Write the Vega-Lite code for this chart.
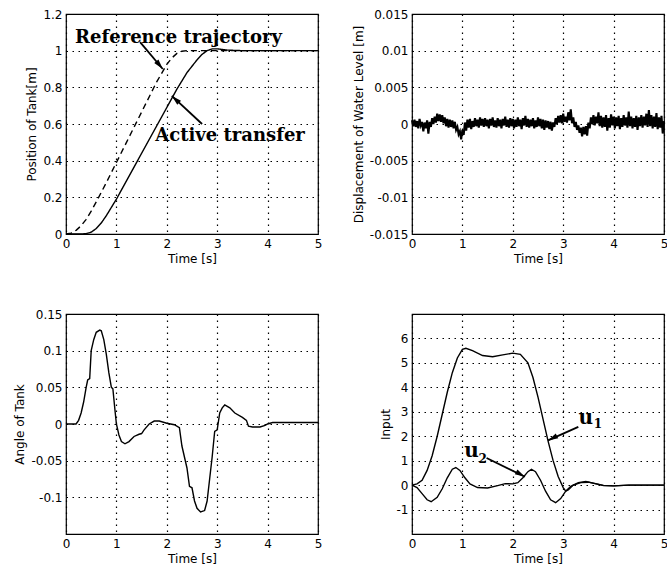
{
"$schema": "https://vega.github.io/schema/vega-lite/v6.json",
"background": "white",
"padding": {"left": 13, "top": 7, "right": 0, "bottom": 5},
"columns": 2,
"spacing": {"row": 80, "column": 94},
"bounds": "flush",
"config": {
  "font": "DejaVu Sans",
  "view": {"stroke": "black", "strokeWidth": 1.2},
  "axis": {"grid": true, "gridColor": "black", "gridDash": [1.5, 4.5], "gridOpacity": 1, "gridWidth": 1.2, "domain": false, "ticks": false, "tickCount": 20, "labelExpr": "'' + datum.value", "labelColor": "black", "labelFontSize": 12, "labelFont": "DejaVu Sans", "titleFont": "DejaVu Sans", "titleFontSize": 12, "titleFontWeight": "normal", "titleColor": "black", "labelPadding": 4, "titlePadding": 4, "labelFlush": false, "labelOverlap": false, "labelBound": false}
},
"datasets": {
  "pos": [
    {"t": 0, "v": 0, "s": "Reference trajectory"},
    {"t": 0.1, "v": 0.005, "s": "Reference trajectory"},
    {"t": 0.2, "v": 0.02, "s": "Reference trajectory"},
    {"t": 0.3, "v": 0.045, "s": "Reference trajectory"},
    {"t": 0.4, "v": 0.08, "s": "Reference trajectory"},
    {"t": 0.5, "v": 0.125, "s": "Reference trajectory"},
    {"t": 0.6, "v": 0.175, "s": "Reference trajectory"},
    {"t": 0.8, "v": 0.28, "s": "Reference trajectory"},
    {"t": 1.0, "v": 0.39, "s": "Reference trajectory"},
    {"t": 1.2, "v": 0.5, "s": "Reference trajectory"},
    {"t": 1.4, "v": 0.61, "s": "Reference trajectory"},
    {"t": 1.6, "v": 0.72, "s": "Reference trajectory"},
    {"t": 1.8, "v": 0.83, "s": "Reference trajectory"},
    {"t": 2.0, "v": 0.925, "s": "Reference trajectory"},
    {"t": 2.1, "v": 0.96, "s": "Reference trajectory"},
    {"t": 2.2, "v": 0.985, "s": "Reference trajectory"},
    {"t": 2.3, "v": 0.997, "s": "Reference trajectory"},
    {"t": 2.4, "v": 1.0, "s": "Reference trajectory"},
    {"t": 5, "v": 1.0, "s": "Reference trajectory"},
    {"t": 0, "v": 0, "s": "Active transfer"},
    {"t": 0.3, "v": 0, "s": "Active transfer"},
    {"t": 0.4, "v": 0.002, "s": "Active transfer"},
    {"t": 0.5, "v": 0.01, "s": "Active transfer"},
    {"t": 0.6, "v": 0.03, "s": "Active transfer"},
    {"t": 0.7, "v": 0.06, "s": "Active transfer"},
    {"t": 0.8, "v": 0.1, "s": "Active transfer"},
    {"t": 0.9, "v": 0.145, "s": "Active transfer"},
    {"t": 1.0, "v": 0.19, "s": "Active transfer"},
    {"t": 1.2, "v": 0.29, "s": "Active transfer"},
    {"t": 1.4, "v": 0.39, "s": "Active transfer"},
    {"t": 1.6, "v": 0.49, "s": "Active transfer"},
    {"t": 1.8, "v": 0.59, "s": "Active transfer"},
    {"t": 2.0, "v": 0.69, "s": "Active transfer"},
    {"t": 2.2, "v": 0.79, "s": "Active transfer"},
    {"t": 2.4, "v": 0.88, "s": "Active transfer"},
    {"t": 2.6, "v": 0.95, "s": "Active transfer"},
    {"t": 2.7, "v": 0.98, "s": "Active transfer"},
    {"t": 2.8, "v": 1.0, "s": "Active transfer"},
    {"t": 2.9, "v": 1.01, "s": "Active transfer"},
    {"t": 3.0, "v": 1.01, "s": "Active transfer"},
    {"t": 3.2, "v": 1.003, "s": "Active transfer"},
    {"t": 3.5, "v": 1.0, "s": "Active transfer"},
    {"t": 5, "v": 1.0, "s": "Active transfer"}
  ],
  "disp": [
    {"t":0.000,"v":0.0005},{"t":0.025,"v":-0.0003},{"t":0.050,"v":0.0006},{"t":0.075,"v":-0.0004},{"t":0.100,"v":0.0004},
    {"t":0.125,"v":-0.0006},{"t":0.150,"v":0.0007},{"t":0.175,"v":-0.0002},{"t":0.200,"v":0.0003},{"t":0.225,"v":-0.0010},
    {"t":0.250,"v":0.0002},{"t":0.275,"v":-0.0006},{"t":0.300,"v":0.0005},{"t":0.325,"v":-0.0013},{"t":0.350,"v":0.0003},
    {"t":0.375,"v":-0.0004},{"t":0.400,"v":0.0008},{"t":0.425,"v":0.0000},{"t":0.450,"v":0.0010},{"t":0.475,"v":0.0002},
    {"t":0.500,"v":0.0014},{"t":0.525,"v":0.0004},{"t":0.550,"v":0.0013},{"t":0.575,"v":0.0003},{"t":0.600,"v":0.0012},
    {"t":0.625,"v":0.0001},{"t":0.650,"v":0.0009},{"t":0.675,"v":-0.0003},{"t":0.700,"v":0.0007},{"t":0.725,"v":-0.0005},
    {"t":0.750,"v":0.0006},{"t":0.775,"v":-0.0004},{"t":0.800,"v":0.0005},{"t":0.825,"v":-0.0006},{"t":0.850,"v":0.0003},
    {"t":0.875,"v":-0.0008},{"t":0.900,"v":-0.0004},{"t":0.925,"v":-0.0014},{"t":0.950,"v":-0.0010},{"t":0.975,"v":-0.0021},
    {"t":1.000,"v":-0.0008},{"t":1.025,"v":-0.0015},{"t":1.050,"v":0.0002},{"t":1.075,"v":-0.0009},{"t":1.100,"v":0.0006},
    {"t":1.125,"v":-0.0005},{"t":1.150,"v":0.0007},{"t":1.175,"v":-0.0007},{"t":1.200,"v":0.0004},{"t":1.225,"v":-0.0004},
    {"t":1.250,"v":0.0008},{"t":1.275,"v":-0.0003},{"t":1.300,"v":0.0006},{"t":1.325,"v":-0.0005},{"t":1.350,"v":0.0009},
    {"t":1.375,"v":-0.0002},{"t":1.400,"v":0.0007},{"t":1.425,"v":-0.0004},{"t":1.450,"v":0.0008},{"t":1.475,"v":-0.0003},
    {"t":1.500,"v":0.0006},{"t":1.525,"v":-0.0006},{"t":1.550,"v":0.0007},{"t":1.575,"v":-0.0002},{"t":1.600,"v":0.0009},
    {"t":1.625,"v":-0.0004},{"t":1.650,"v":0.0005},{"t":1.675,"v":-0.0005},{"t":1.700,"v":0.0008},{"t":1.725,"v":-0.0003},
    {"t":1.750,"v":0.0006},{"t":1.775,"v":-0.0006},{"t":1.800,"v":0.0007},{"t":1.825,"v":-0.0002},{"t":1.850,"v":0.0010},
    {"t":1.875,"v":-0.0004},{"t":1.900,"v":0.0006},{"t":1.925,"v":-0.0005},{"t":1.950,"v":0.0008},{"t":1.975,"v":-0.0003},
    {"t":2.000,"v":0.0007},{"t":2.025,"v":-0.0006},{"t":2.050,"v":0.0006},{"t":2.075,"v":-0.0004},{"t":2.100,"v":0.0009},
    {"t":2.125,"v":-0.0003},{"t":2.150,"v":0.0006},{"t":2.175,"v":-0.0007},{"t":2.200,"v":0.0008},{"t":2.225,"v":-0.0002},
    {"t":2.250,"v":0.0011},{"t":2.275,"v":-0.0004},{"t":2.300,"v":0.0007},{"t":2.325,"v":-0.0005},{"t":2.350,"v":0.0006},
    {"t":2.375,"v":-0.0003},{"t":2.400,"v":0.0008},{"t":2.425,"v":-0.0006},{"t":2.450,"v":0.0005},{"t":2.475,"v":-0.0004},
    {"t":2.500,"v":0.0009},{"t":2.525,"v":-0.0003},{"t":2.550,"v":0.0007},{"t":2.575,"v":-0.0006},{"t":2.600,"v":0.0006},
    {"t":2.625,"v":-0.0008},{"t":2.650,"v":0.0005},{"t":2.675,"v":-0.0005},{"t":2.700,"v":0.0004},{"t":2.725,"v":-0.0007},
    {"t":2.750,"v":0.0003},{"t":2.775,"v":-0.0009},{"t":2.800,"v":0.0002},{"t":2.825,"v":-0.0004},{"t":2.850,"v":0.0008},
    {"t":2.875,"v":0.0000},{"t":2.900,"v":0.0011},{"t":2.925,"v":0.0002},{"t":2.950,"v":0.0012},{"t":2.975,"v":0.0001},
    {"t":3.000,"v":0.0014},{"t":3.025,"v":0.0003},{"t":3.050,"v":0.0010},{"t":3.075,"v":0.0002},{"t":3.100,"v":0.0016},
    {"t":3.125,"v":0.0005},{"t":3.150,"v":0.0020},{"t":3.175,"v":0.0001},{"t":3.200,"v":0.0009},{"t":3.225,"v":-0.0004},
    {"t":3.250,"v":0.0003},{"t":3.275,"v":-0.0008},{"t":3.300,"v":-0.0002},{"t":3.325,"v":-0.0012},{"t":3.350,"v":-0.0005},
    {"t":3.375,"v":-0.0017},{"t":3.400,"v":-0.0004},{"t":3.425,"v":-0.0014},{"t":3.450,"v":-0.0003},{"t":3.475,"v":-0.0016},
    {"t":3.500,"v":0.0002},{"t":3.525,"v":-0.0006},{"t":3.550,"v":0.0009},{"t":3.575,"v":0.0000},{"t":3.600,"v":0.0012},
    {"t":3.625,"v":-0.0002},{"t":3.650,"v":0.0010},{"t":3.675,"v":0.0001},{"t":3.700,"v":0.0016},{"t":3.725,"v":-0.0003},
    {"t":3.750,"v":0.0011},{"t":3.775,"v":-0.0005},{"t":3.800,"v":0.0009},{"t":3.825,"v":-0.0004},{"t":3.850,"v":0.0012},
    {"t":3.875,"v":-0.0009},{"t":3.900,"v":0.0008},{"t":3.925,"v":-0.0005},{"t":3.950,"v":0.0013},{"t":3.975,"v":-0.0002},
    {"t":4.000,"v":0.0010},{"t":4.025,"v":-0.0006},{"t":4.050,"v":0.0009},{"t":4.075,"v":-0.0003},{"t":4.100,"v":0.0011},
    {"t":4.125,"v":-0.0007},{"t":4.150,"v":0.0008},{"t":4.175,"v":-0.0004},{"t":4.200,"v":0.0012},{"t":4.225,"v":-0.0002},
    {"t":4.250,"v":0.0009},{"t":4.275,"v":-0.0005},{"t":4.300,"v":0.0017},{"t":4.325,"v":-0.0003},{"t":4.350,"v":0.0010},
    {"t":4.375,"v":-0.0006},{"t":4.400,"v":0.0008},{"t":4.425,"v":-0.0004},{"t":4.450,"v":0.0011},{"t":4.475,"v":-0.0008},
    {"t":4.500,"v":0.0009},{"t":4.525,"v":-0.0003},{"t":4.550,"v":0.0012},{"t":4.575,"v":-0.0005},{"t":4.600,"v":0.0010},
    {"t":4.625,"v":-0.0002},{"t":4.650,"v":0.0014},{"t":4.675,"v":-0.0004},{"t":4.700,"v":0.0019},{"t":4.725,"v":-0.0003},
    {"t":4.750,"v":0.0012},{"t":4.775,"v":-0.0006},{"t":4.800,"v":0.0010},{"t":4.825,"v":-0.0004},{"t":4.850,"v":0.0015},
    {"t":4.875,"v":-0.0007},{"t":4.900,"v":0.0009},{"t":4.925,"v":-0.0005},{"t":4.950,"v":0.0011},{"t":4.975,"v":-0.0013},
    {"t":5.000,"v":0.0004}
  ],
  "angle": [
    {"t":0,"v":0},{"t":0.2,"v":0},{"t":0.25,"v":0.005},{"t":0.3,"v":0.015},{"t":0.35,"v":0.03},{"t":0.4,"v":0.05},
    {"t":0.43,"v":0.06},{"t":0.47,"v":0.062},{"t":0.5,"v":0.1},{"t":0.55,"v":0.115},{"t":0.6,"v":0.125},{"t":0.67,"v":0.128},
    {"t":0.7,"v":0.127},{"t":0.75,"v":0.115},{"t":0.8,"v":0.095},{"t":0.85,"v":0.07},{"t":0.9,"v":0.05},{"t":0.93,"v":0.048},
    {"t":0.97,"v":0.02},{"t":1.0,"v":0.0},{"t":1.05,"v":-0.015},{"t":1.1,"v":-0.024},{"t":1.17,"v":-0.027},{"t":1.25,"v":-0.024},
    {"t":1.35,"v":-0.017},{"t":1.45,"v":-0.014},{"t":1.5,"v":-0.013},{"t":1.55,"v":-0.008},{"t":1.65,"v":0.0},{"t":1.75,"v":0.004},
    {"t":1.85,"v":0.004},{"t":2.0,"v":0.001},{"t":2.15,"v":-0.001},{"t":2.25,"v":-0.005},{"t":2.3,"v":-0.03},{"t":2.4,"v":-0.06},
    {"t":2.45,"v":-0.085},{"t":2.5,"v":-0.087},{"t":2.55,"v":-0.105},{"t":2.6,"v":-0.115},{"t":2.67,"v":-0.12},{"t":2.75,"v":-0.118},
    {"t":2.8,"v":-0.105},{"t":2.85,"v":-0.075},{"t":2.9,"v":-0.045},{"t":2.95,"v":-0.01},{"t":3.0,"v":-0.008},{"t":3.05,"v":0.015},
    {"t":3.1,"v":0.022},{"t":3.15,"v":0.026},{"t":3.25,"v":0.022},{"t":3.35,"v":0.015},{"t":3.5,"v":0.009},{"t":3.58,"v":0.005},
    {"t":3.62,"v":-0.003},{"t":3.7,"v":-0.004},{"t":3.85,"v":-0.004},{"t":3.95,"v":-0.002},{"t":4.0,"v":0.0},{"t":4.05,"v":0.001},
    {"t":4.1,"v":0.002},{"t":5,"v":0.002}
  ],
  "input": [
    {"t":0,"v":0,"s":"u1"},{"t":0.1,"v":0.05,"s":"u1"},{"t":0.2,"v":0.2,"s":"u1"},{"t":0.3,"v":0.6,"s":"u1"},{"t":0.4,"v":1.2,"s":"u1"},
    {"t":0.5,"v":2.0,"s":"u1"},{"t":0.6,"v":2.9,"s":"u1"},{"t":0.7,"v":3.8,"s":"u1"},{"t":0.8,"v":4.6,"s":"u1"},{"t":0.9,"v":5.2,"s":"u1"},
    {"t":1.0,"v":5.55,"s":"u1"},{"t":1.07,"v":5.6,"s":"u1"},{"t":1.2,"v":5.5,"s":"u1"},{"t":1.4,"v":5.3,"s":"u1"},{"t":1.6,"v":5.25,"s":"u1"},
    {"t":1.8,"v":5.33,"s":"u1"},{"t":2.0,"v":5.4,"s":"u1"},{"t":2.15,"v":5.35,"s":"u1"},{"t":2.3,"v":5.0,"s":"u1"},{"t":2.4,"v":4.4,"s":"u1"},
    {"t":2.5,"v":3.6,"s":"u1"},{"t":2.6,"v":2.7,"s":"u1"},{"t":2.7,"v":1.8,"s":"u1"},{"t":2.8,"v":1.0,"s":"u1"},{"t":2.9,"v":0.35,"s":"u1"},
    {"t":3.0,"v":-0.1,"s":"u1"},{"t":3.05,"v":-0.25,"s":"u1"},{"t":3.1,"v":-0.2,"s":"u1"},{"t":3.2,"v":0.0,"s":"u1"},{"t":3.35,"v":0.1,"s":"u1"},
    {"t":3.5,"v":0.12,"s":"u1"},{"t":3.65,"v":0.05,"s":"u1"},{"t":3.8,"v":-0.02,"s":"u1"},{"t":4.0,"v":-0.03,"s":"u1"},{"t":4.3,"v":0.0,"s":"u1"},
    {"t":5,"v":0.0,"s":"u1"},
    {"t":0,"v":0,"s":"u2"},{"t":0.1,"v":-0.1,"s":"u2"},{"t":0.2,"v":-0.35,"s":"u2"},{"t":0.3,"v":-0.6,"s":"u2"},{"t":0.38,"v":-0.68,"s":"u2"},
    {"t":0.5,"v":-0.5,"s":"u2"},{"t":0.6,"v":-0.15,"s":"u2"},{"t":0.7,"v":0.3,"s":"u2"},{"t":0.8,"v":0.65,"s":"u2"},{"t":0.87,"v":0.72,"s":"u2"},
    {"t":0.95,"v":0.6,"s":"u2"},{"t":1.05,"v":0.3,"s":"u2"},{"t":1.15,"v":0.05,"s":"u2"},{"t":1.3,"v":-0.1,"s":"u2"},{"t":1.5,"v":-0.12,"s":"u2"},
    {"t":1.7,"v":-0.02,"s":"u2"},{"t":1.85,"v":0.06,"s":"u2"},{"t":2.0,"v":0.05,"s":"u2"},{"t":2.1,"v":0.1,"s":"u2"},{"t":2.2,"v":0.3,"s":"u2"},
    {"t":2.3,"v":0.55,"s":"u2"},{"t":2.37,"v":0.65,"s":"u2"},{"t":2.45,"v":0.55,"s":"u2"},{"t":2.55,"v":0.2,"s":"u2"},{"t":2.65,"v":-0.25,"s":"u2"},
    {"t":2.75,"v":-0.6,"s":"u2"},{"t":2.85,"v":-0.72,"s":"u2"},{"t":2.95,"v":-0.55,"s":"u2"},{"t":3.05,"v":-0.25,"s":"u2"},{"t":3.15,"v":-0.05,"s":"u2"},
    {"t":3.3,"v":0.1,"s":"u2"},{"t":3.45,"v":0.15,"s":"u2"},{"t":3.6,"v":0.08,"s":"u2"},{"t":3.8,"v":-0.01,"s":"u2"},{"t":4.0,"v":-0.03,"s":"u2"},
    {"t":4.3,"v":0.0,"s":"u2"},{"t":5,"v":0.0,"s":"u2"}
  ]
},
"concat": [
  {
    "width": 252, "height": 220,
    "layer": [
      {
        "data": {"name": "pos"},
        "mark": {"type": "line", "color": "black", "strokeWidth": 1.4},
        "encoding": {
          "x": {"field": "t", "type": "quantitative", "scale": {"domain": [0, 5]}, "axis": {"values": [0, 1, 2, 3, 4, 5], "title": "Time [s]"}},
          "y": {"field": "v", "type": "quantitative", "scale": {"domain": [0, 1.2]}, "axis": {"values": [0, 0.2, 0.4, 0.6, 0.8, 1, 1.2], "title": "Position of Tank[m]"}},
          "strokeDash": {"field": "s", "type": "nominal", "scale": {"domain": ["Active transfer", "Reference trajectory"], "range": [[1, 0], [6, 4]]}, "legend": null}
        }
      },
      {
        "data": {"values": [{"t": 0.18, "v": 1.07, "label": "Reference trajectory"}, {"t": 1.77, "v": 0.535, "label": "Active transfer"}]},
        "mark": {"type": "text", "font": "DejaVu Serif", "fontWeight": "bold", "fontSize": 18, "align": "left", "baseline": "middle", "color": "black"},
        "encoding": {"x": {"field": "t", "type": "quantitative"}, "y": {"field": "v", "type": "quantitative"}, "text": {"field": "label"}}
      },
      {
        "data": {"values": [{"t": 1.47, "v": 1.047, "t2": 1.92, "v2": 0.9}, {"t": 2.7, "v": 0.6, "t2": 2.1, "v2": 0.753}]},
        "mark": {"type": "rule", "color": "black", "strokeWidth": 1.8},
        "encoding": {"x": {"field": "t", "type": "quantitative"}, "y": {"field": "v", "type": "quantitative"}, "x2": {"field": "t2"}, "y2": {"field": "v2"}}
      },
      {
        "data": {"values": [{"t": 1.92, "v": 0.9}]},
        "mark": {"type": "point", "shape": "M0,0 L-2,-0.55 L-2,0.55 Z", "filled": true, "color": "black", "opacity": 1, "size": 100, "angle": 50},
        "encoding": {"x": {"field": "t", "type": "quantitative"}, "y": {"field": "v", "type": "quantitative"}}
      },
      {
        "data": {"values": [{"t": 2.1, "v": 0.753}]},
        "mark": {"type": "point", "shape": "M0,0 L-2,-0.55 L-2,0.55 Z", "filled": true, "color": "black", "opacity": 1, "size": 100, "angle": 223},
        "encoding": {"x": {"field": "t", "type": "quantitative"}, "y": {"field": "v", "type": "quantitative"}}
      }
    ]
  },
  {
    "width": 252, "height": 220,
    "data": {"name": "disp"},
    "mark": {"type": "line", "color": "black", "strokeWidth": 2.1},
    "encoding": {
      "x": {"field": "t", "type": "quantitative", "scale": {"domain": [0, 5]}, "axis": {"values": [0, 1, 2, 3, 4, 5], "title": "Time [s]"}},
      "y": {"field": "v", "type": "quantitative", "scale": {"domain": [-0.015, 0.015]}, "axis": {"values": [-0.015, -0.01, -0.005, 0, 0.005, 0.01, 0.015], "title": "Displacement of Water Level [m]"}}
    }
  },
  {
    "width": 252, "height": 220,
    "data": {"name": "angle"},
    "mark": {"type": "line", "color": "black", "strokeWidth": 1.4},
    "encoding": {
      "x": {"field": "t", "type": "quantitative", "scale": {"domain": [0, 5]}, "axis": {"values": [0, 1, 2, 3, 4, 5], "title": "Time [s]"}},
      "y": {"field": "v", "type": "quantitative", "scale": {"domain": [-0.15, 0.15]}, "axis": {"values": [-0.1, -0.05, 0, 0.05, 0.1, 0.15], "title": "Angle of Tank"}}
    }
  },
  {
    "width": 252, "height": 220,
    "layer": [
      {
        "data": {"name": "input"},
        "mark": {"type": "line", "color": "black", "strokeWidth": 1.4},
        "encoding": {
          "x": {"field": "t", "type": "quantitative", "scale": {"domain": [0, 5]}, "axis": {"values": [0, 1, 2, 3, 4, 5], "title": "Time [s]"}},
          "y": {"field": "v", "type": "quantitative", "scale": {"domain": [-1.5, 6.5]}, "axis": {"values": [-1, 0, 1, 2, 3, 4, 5, 6], "title": "Input"}},
          "detail": {"field": "s", "type": "nominal"}
        }
      },
      {
        "data": {"values": [{"t": 3.45, "v": 2.75, "label": "u"}, {"t": 1.18, "v": 1.41, "label": "u"}]},
        "mark": {"type": "text", "font": "DejaVu Serif", "fontWeight": "bold", "fontSize": 20, "align": "center", "baseline": "middle", "color": "black"},
        "encoding": {"x": {"field": "t", "type": "quantitative"}, "y": {"field": "v", "type": "quantitative"}, "text": {"field": "label"}}
      },
      {
        "data": {"values": [{"t": 3.69, "v": 2.5, "label": "1"}, {"t": 1.4, "v": 1.08, "label": "2"}]},
        "mark": {"type": "text", "font": "DejaVu Serif", "fontWeight": "bold", "fontSize": 12, "align": "center", "baseline": "middle", "color": "black"},
        "encoding": {"x": {"field": "t", "type": "quantitative"}, "y": {"field": "v", "type": "quantitative"}, "text": {"field": "label"}}
      },
      {
        "data": {"values": [{"t": 3.3, "v": 2.38, "t2": 2.7, "v2": 1.83}, {"t": 1.48, "v": 1.11, "t2": 2.24, "v2": 0.34}]},
        "mark": {"type": "rule", "color": "black", "strokeWidth": 1.8},
        "encoding": {"x": {"field": "t", "type": "quantitative"}, "y": {"field": "v", "type": "quantitative"}, "x2": {"field": "t2"}, "y2": {"field": "v2"}}
      },
      {
        "data": {"values": [{"t": 2.7, "v": 1.83}]},
        "mark": {"type": "point", "shape": "M0,0 L-2,-0.55 L-2,0.55 Z", "filled": true, "color": "black", "opacity": 1, "size": 100, "angle": 153},
        "encoding": {"x": {"field": "t", "type": "quantitative"}, "y": {"field": "v", "type": "quantitative"}}
      },
      {
        "data": {"values": [{"t": 2.24, "v": 0.34}]},
        "mark": {"type": "point", "shape": "M0,0 L-2,-0.55 L-2,0.55 Z", "filled": true, "color": "black", "opacity": 1, "size": 100, "angle": 29},
        "encoding": {"x": {"field": "t", "type": "quantitative"}, "y": {"field": "v", "type": "quantitative"}}
      }
    ]
  }
]
}
